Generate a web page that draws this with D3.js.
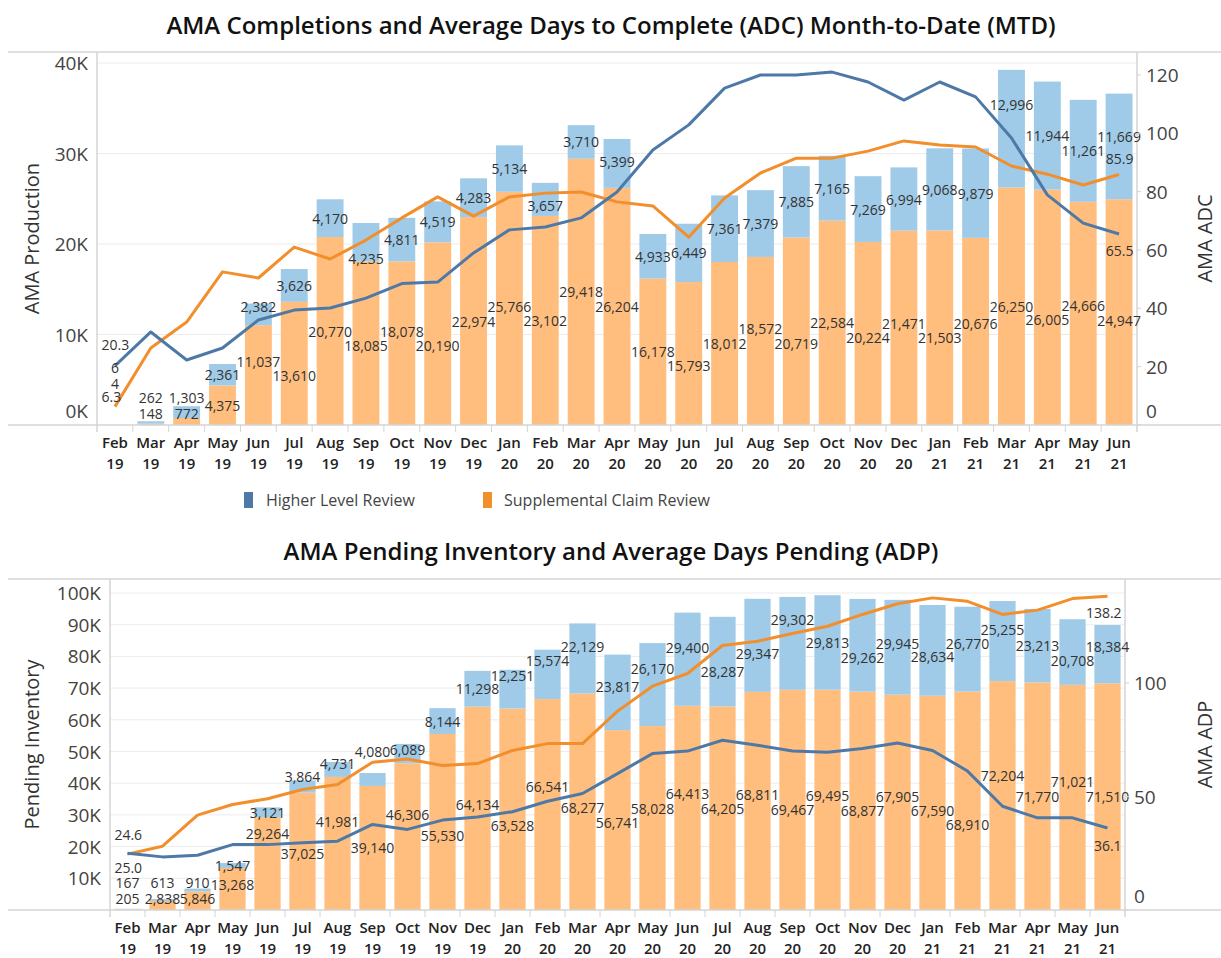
<!DOCTYPE html>
<html>
<head>
<meta charset="utf-8">
<script src="https://cdn.jsdelivr.net/npm/d3@7"></script>
<style>
    body { margin: 0; background: #fff; }
    svg { font-family: "Open Sans", sans-serif; }
</style>
</head>
<body>
<svg id="chart" width="1221" height="958"></svg>
<script>
// month labels
const months = ['Feb','Mar','Apr','May','Jun','Jul','Aug','Sep','Oct','Nov','Dec',
    'Jan','Feb','Mar','Apr','May','Jun','Jul','Aug','Sep','Oct','Nov','Dec',
    'Jan','Feb','Mar','Apr','May','Jun'];
const years = ['19','19','19','19','19','19','19','19','19','19','19',
    '20','20','20','20','20','20','20','20','20','20','20','20',
    '21','21','21','21','21','21'];

// completions (top chart bars)
const compHLR = [6, 262, 1303, 2361, 2382, 3626, 4170, 4235, 4811, 4519, 4283,
    5134, 3657, 3710, 5399, 4933, 6449, 7361, 7379, 7885, 7165, 7269, 6994,
    9068, 9879, 12996, 11944, 11261, 11669];
const compSC = [4, 148, 772, 4375, 11037, 13610, 20770, 18085, 18078, 20190, 22974,
    25766, 23102, 29418, 26204, 16178, 15793, 18012, 18572, 20719, 22584, 20224, 21471,
    21503, 20676, 26250, 26005, 24666, 24947];

// average days to complete (top chart lines)
const adcHLR = [20.3, 31.9, 22.3, 26.4, 36.0, 39.4, 40.1, 43.5, 48.5, 49.0, 59.0,
    66.9, 67.9, 71.0, 79.9, 94.3, 102.9, 115.5, 120.0, 120.0, 121.0, 117.6, 111.4,
    117.6, 112.5, 98.4, 78.9, 69.2, 65.5];
const adcSC = [6.3, 26.4, 35.3, 52.5, 50.4, 61.0, 56.9, 63.4, 71.0, 78.2, 71.6,
    78.2, 79.5, 79.9, 76.5, 75.1, 64.4, 77.8, 86.4, 91.5, 91.5, 93.9, 97.4,
    96.0, 95.3, 88.8, 86.0, 82.3, 85.9];

// pending inventory (bottom chart bars)
const pendHLR = [167, 613, 910, 1547, 3121, 3864, 4731, 4080, 6089, 8144, 11298,
    12251, 15574, 22129, 23817, 26170, 29400, 28287, 29347, 29302, 29813, 29262, 29945,
    28634, 26770, 25255, 23213, 20708, 18384];
const pendSC = [205, 2838, 5846, 13268, 29264, 37025, 41981, 39140, 46306, 55530, 64134,
    63528, 66541, 68277, 56741, 58028, 64413, 64205, 68811, 69467, 69495, 68877, 67905,
    67590, 68910, 72204, 71770, 71021, 71510];

// average days pending (bottom chart lines)
const adpHLR = [25.0, 23.4, 24.1, 28.8, 28.8, 29.6, 30.3, 37.7, 35.5, 39.6, 41.0,
    43.3, 47.9, 51.3, 60.1, 68.9, 70.0, 74.8, 72.6, 70.0, 69.5, 71.1, 73.6,
    70.3, 61.2, 45.7, 40.6, 40.6, 36.1];
const adpSC = [24.6, 28.1, 41.8, 46.5, 49.0, 53.1, 55.3, 65.1, 66.5, 63.7, 64.5,
    70.3, 73.3, 73.3, 87.6, 98.6, 104.2, 116.5, 118.4, 121.8, 125.0, 130.2, 134.9,
    137.5, 136.0, 130.2, 132.1, 137.2, 138.2];

const prodTicks = [0, 10000, 20000, 30000, 40000];
const adcTicks = [0, 20, 40, 60, 80, 100, 120];
const invTicks = [10000, 20000, 30000, 40000, 50000, 60000, 70000, 80000, 90000, 100000];
const adpTicks = [0, 50, 100];

const seriesNames = ['Higher Level Review', 'Supplemental Claim Review'];

const colors = {
    hlrBar: '#a0cbe8',
    scBar: '#ffbe7d',
    hlrLine: '#4e79a7',
    scLine: '#f28e2b',
    grid: '#ececec',
    axis: '#d4d4d4',
    text: '#333'
};

const svg = d3.select('#chart');
const keys = months.map((m, i) => m + ' ' + years[i]);
const fmtK = d => (d / 1000) + 'K';
const fmtN = d3.format(',');

function drawPanel(cfg) {
    const g = svg.append('g');
    const x = d3.scaleBand().domain(keys).range([cfg.left, cfg.right]).paddingInner(0.25).paddingOuter(0.125);
    const yL = d3.scaleLinear().domain([0, cfg.leftMax]).range([cfg.base, cfg.leftMaxY]);
    const yR = d3.scaleLinear().domain([0, cfg.rightMax]).range([cfg.base, cfg.rightMaxY]);
    const cx = k => x(k) + x.bandwidth() / 2;
    const step = x.step();
    const xs = keys.map(cx);

    // title
    g.append('text')
        .attr('x', 611).attr('y', cfg.titleY)
        .attr('text-anchor', 'middle')
        .style('font-size', '24px').style('font-weight', 600)
        .style('fill', '#111')
        .text(cfg.title);

    // frame line
    g.append('line').attr('x1', 8).attr('x2', 1221).attr('y1', cfg.top).attr('y2', cfg.top)
        .attr('stroke', colors.axis).attr('stroke-width', 1.5);

    // gridlines
    g.selectAll('.grid').data(cfg.leftTicks.filter(d => d > 0)).enter().append('line')
        .attr('x1', cfg.left).attr('x2', cfg.right)
        .attr('y1', d => yL(d)).attr('y2', d => yL(d))
        .attr('stroke', colors.grid).attr('stroke-width', 1);

    // stacked bars
    const bars = g.append('g');
    bars.selectAll('.sc').data(keys).enter().append('rect')
        .attr('x', d => x(d)).attr('width', x.bandwidth())
        .attr('y', (d, i) => yL(cfg.sc[i]))
        .attr('height', (d, i) => yL(0) - yL(cfg.sc[i]))
        .attr('fill', colors.scBar);
    bars.selectAll('.hlr').data(keys).enter().append('rect')
        .attr('x', d => x(d)).attr('width', x.bandwidth())
        .attr('y', (d, i) => yL(cfg.sc[i] + cfg.hlr[i]))
        .attr('height', (d, i) => yL(cfg.sc[i]) - yL(cfg.sc[i] + cfg.hlr[i]))
        .attr('fill', colors.hlrBar);

    // axis lines
    g.append('line').attr('x1', 8).attr('x2', 1221).attr('y1', cfg.base).attr('y2', cfg.base)
        .attr('stroke', colors.axis).attr('stroke-width', 1.5);
    [cfg.left, cfg.right].forEach(xx => {
        g.append('line').attr('x1', xx).attr('x2', xx).attr('y1', cfg.top).attr('y2', cfg.base + 7)
            .attr('stroke', colors.axis).attr('stroke-width', 1.5);
    });
    // category dividers below axis
    g.selectAll('.div').data(keys.slice(1)).enter().append('line')
        .attr('x1', d => x(d) - (step - x.bandwidth()) / 2)
        .attr('x2', d => x(d) - (step - x.bandwidth()) / 2)
        .attr('y1', cfg.base).attr('y2', cfg.base + 7)
        .attr('stroke', colors.axis).attr('stroke-width', 1);

    // lines
    const line = d3.line().x((d, i) => xs[i]).y(d => yR(d));
    g.append('path').datum(cfg.adcSC).attr('d', line)
        .attr('fill', 'none').attr('stroke', colors.scLine).attr('stroke-width', 3)
        .attr('stroke-linejoin', 'round');
    g.append('path').datum(cfg.adcHLR).attr('d', line)
        .attr('fill', 'none').attr('stroke', colors.hlrLine).attr('stroke-width', 3)
        .attr('stroke-linejoin', 'round');

    // ---- labels with simple collision avoidance ----
    const placed = [];
    const H = 7;
    const lineRange = (series, x0, x1) => {
        const ys = [];
        const at = px => {
            if (px <= xs[0] || px >= xs[xs.length - 1]) return null;
            const i = d3.bisectRight(xs, px) - 1;
            const t = (px - xs[i]) / (xs[i + 1] - xs[i]);
            return yR(series[i]) * (1 - t) + yR(series[i + 1]) * t;
        };
        [x0, (x0 + x1) / 2, x1].forEach(p => { const v = at(p); if (v !== null) ys.push(v); });
        xs.forEach((p, i) => { if (p >= x0 && p <= x1) ys.push(yR(series[i])); });
        return ys.length ? [d3.min(ys), d3.max(ys)] : null;
    };
    const hitsLine = (x0, x1, y) => [cfg.adcSC, cfg.adcHLR].some(s => {
        const r = lineRange(s, x0, x1);
        return r && r[1] > y - H - 1.5 && r[0] < y + H + 1.5;
    });
    const hitsLabel = (x0, x1, y) => placed.some(b =>
        Math.min(x1, b.x1) - Math.max(x0, b.x0) > 0 && Math.min(y + H, b.y1) - Math.max(y - H, b.y0) > 1);

    const labelG = g.append('g').style('font-size', '14px').style('fill', colors.text)
        .attr('dominant-baseline', 'central');

    function addFixed(txt, px, py, anchor) {
        const t = labelG.append('text').attr('x', px).attr('y', py).attr('text-anchor', anchor).text(txt);
        const w = t.node().getComputedTextLength();
        const x0 = anchor === 'start' ? px : anchor === 'end' ? px - w : px - w / 2;
        placed.push({x0: x0, x1: x0 + w, y0: py - H, y1: py + H});
    }
    function addBarLabel(txt, px, start, lo, hi) {
        const t = labelG.append('text').attr('x', px).attr('text-anchor', 'middle').text(txt);
        const w = t.node().getComputedTextLength();
        const x0 = px - w / 2 + 0.5, x1 = px + w / 2 - 0.5;
        let best = null;
        for (let k = 0; k <= 30 && best === null; k++) {
            for (const s of (k === 0 ? [0] : [-1, 1])) {
                const y = start + s * k * 2;
                if (y < lo || y > hi) continue;
                if (!hitsLabel(x0, x1, y) && !hitsLine(x0, x1, y)) { best = y; break; }
            }
        }
        if (best === null) best = start;
        t.attr('y', best);
        placed.push({x0: x0, x1: x1, y0: best - H, y1: best + H});
        return best;
    }

    // line end labels
    const n = keys.length - 1;
    const rEdge = x(keys[n]) + x.bandwidth() + 1;
    addFixed(cfg.adcHLR[0].toFixed(1), x(keys[0]), yR(cfg.adcHLR[0]) + cfg.firstHlrDy, 'start');
    addFixed(cfg.adcSC[0].toFixed(1), x(keys[0]), yR(cfg.adcSC[0]) + cfg.firstScDy, 'start');
    addFixed(cfg.adcHLR[n].toFixed(1), rEdge, yR(cfg.adcHLR[n]) + 17, 'end');
    addFixed(cfg.adcSC[n].toFixed(1), rEdge, yR(cfg.adcSC[n]) + cfg.lastScDy, 'end');

    keys.forEach((k, i) => {
        const y0 = yL(0), y1 = yL(cfg.sc[i]), y2 = yL(cfg.sc[i] + cfg.hlr[i]);
        const scStart = Math.min((y0 + y1) / 2, y0 - 12);
        let scY;
        if (y0 - y1 >= 16) scY = addBarLabel(fmtN(cfg.sc[i]), xs[i], scStart, y1 + 2, y0 - 7);
        else scY = addBarLabel(fmtN(cfg.sc[i]), xs[i], scStart, scStart - 30, scStart);
        const hlStart = Math.min((y1 + y2) / 2, scY - 16);
        if (y1 - y2 >= 16 && hlStart === (y1 + y2) / 2) addBarLabel(fmtN(cfg.hlr[i]), xs[i], hlStart, y2, y1 + 2);
        else addBarLabel(fmtN(cfg.hlr[i]), xs[i], hlStart, hlStart - 30, hlStart);
    });

    // left tick labels
    g.selectAll('.lt').data(cfg.leftTicks).enter().append('text')
        .attr('x', cfg.left - 9)
        .attr('y', d => d === 0 ? yL(d) - 14 : yL(d))
        .attr('text-anchor', 'end').attr('dominant-baseline', 'central')
        .style('font-size', '19px').style('fill', '#444')
        .text(fmtK);

    // right ticks and labels
    g.selectAll('.rtick').data(cfg.rightTicks).enter().append('line')
        .attr('x1', cfg.right).attr('x2', cfg.right + 4)
        .attr('y1', d => yR(d)).attr('y2', d => yR(d))
        .attr('stroke', colors.axis);
    g.selectAll('.rt').data(cfg.rightTicks).enter().append('text')
        .attr('x', cfg.right + 9)
        .attr('y', d => d === 0 ? yR(d) - 14 : yR(d))
        .attr('dominant-baseline', 'central')
        .style('font-size', '19px').style('fill', '#444')
        .text(d => d);

    // x labels
    const xl = g.append('g').attr('text-anchor', 'middle')
        .style('font-size', '15px').style('font-weight', 600).style('fill', '#222');
    keys.forEach((k, i) => {
        xl.append('text').attr('x', xs[i]).attr('y', cfg.base + 23).text(months[i]);
        xl.append('text').attr('x', xs[i]).attr('y', cfg.base + 44).text(years[i]);
    });

    // axis titles
    const mid = (cfg.top + cfg.base) / 2;
    g.append('text')
        .attr('transform', `translate(39,${mid}) rotate(-90)`)
        .attr('text-anchor', 'middle')
        .style('font-size', '20px').style('fill', colors.text)
        .text(cfg.leftTitle);
    g.append('text')
        .attr('transform', `translate(1212,${mid}) rotate(-90)`)
        .attr('text-anchor', 'middle')
        .style('font-size', '20px').style('fill', colors.text)
        .text(cfg.rightTitle);
}

drawPanel({
    title: 'AMA Completions and Average Days to Complete (ADC) Month-to-Date (MTD)',
    titleY: 34,
    top: 52, base: 425, left: 97, right: 1137,
    leftMax: 40000, leftMaxY: 63, rightMax: 120, rightMaxY: 75,
    leftTicks: prodTicks, rightTicks: adcTicks,
    hlr: compHLR, sc: compSC, adcHLR: adcHLR, adcSC: adcSC,
    firstHlrDy: -21, firstScDy: -10, lastScDy: -16,
    leftTitle: 'AMA Production', rightTitle: 'AMA ADC'
});

drawPanel({
    title: 'AMA Pending Inventory and Average Days Pending (ADP)',
    titleY: 560,
    top: 579, base: 910, left: 110, right: 1125,
    leftMax: 100000, leftMaxY: 593, rightMax: 100, rightMaxY: 683,
    leftTicks: invTicks, rightTicks: adpTicks,
    hlr: pendHLR, sc: pendSC, adcHLR: adpHLR, adcSC: adpSC,
    firstHlrDy: 14, firstScDy: -20, lastScDy: 16,
    leftTitle: 'Pending Inventory', rightTitle: 'AMA ADP'
});

// legend
const legend = svg.append('g').attr('transform', 'translate(0,500)');
[[244, 266, colors.hlrLine], [483, 504, colors.scLine]].forEach((p, i) => {
    legend.append('rect').attr('x', p[0]).attr('y', -8).attr('width', 9).attr('height', 16).attr('fill', p[2]);
    legend.append('text').attr('x', p[1]).attr('y', 0).attr('dominant-baseline', 'central')
        .style('font-size', '16px').style('fill', '#444').text(seriesNames[i]);
});
</script>
</body>
</html>
